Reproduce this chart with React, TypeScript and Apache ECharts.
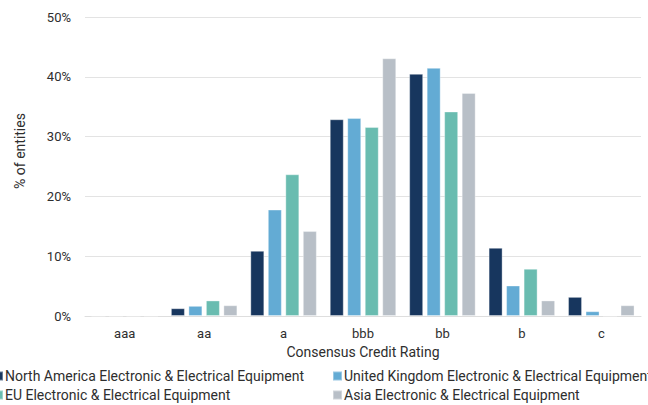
import React, { useEffect, useRef } from "react";
import * as echarts from "echarts";

// Consensus credit rating buckets
const ratings = ["aaa", "aa", "a", "bbb", "bb", "b", "c"];

// Share of entities (%) in each rating bucket, per region
const northAmerica = [0, 1.3, 10.9, 32.9, 40.5, 11.4, 3.2];
const unitedKingdom = [0, 1.7, 17.8, 33.1, 41.5, 5.1, 0.8];
const europeanUnion = [0, 2.6, 23.7, 31.6, 34.2, 7.9, 0];
const asia = [0, 1.8, 14.2, 43.1, 37.3, 2.6, 1.8];

const yTicks = [0, 10, 20, 30, 40, 50];

const seriesNames = [
  "North America Electronic & Electrical Equipment",
  "United Kingdom Electronic & Electrical Equipment",
  "EU Electronic & Electrical Equipment",
  "Asia Electronic & Electrical Equipment",
];
const seriesData = [northAmerica, unitedKingdom, europeanUnion, asia];
const colors = ["#17365e", "#63abd4", "#69bcb0", "#b8bfc7"];

const FONT = "Roboto, 'Noto Sans', sans-serif";
const TEXT = "#2e2e2e";

export default function App() {
  const ref = useRef<HTMLDivElement>(null);

  useEffect(() => {
    document.body.style.margin = "0";
    if (!ref.current) return;
    const chart = echarts.init(ref.current, null, { renderer: "svg" });

    const legendPos = [
      { left: -7, top: 369 },
      { left: 332, top: 369 },
      { left: -7, top: 388 },
      { left: 332, top: 388 },
    ];

    chart.setOption({
      animation: false,
      textStyle: { fontFamily: FONT },
      grid: {
        left: 85,
        right: 7,
        top: 17,
        bottom: 89,
        containLabel: false,
        outerBoundsMode: "none",
      },
      legend: seriesNames.map((name, i) => ({
        data: [name],
        left: legendPos[i].left,
        top: legendPos[i].top,
        padding: 0,
        itemWidth: 9,
        itemHeight: 9,
        icon: "rect",
        selectedMode: false,
        textStyle: {
          fontSize: 14,
          color: TEXT,
          fontFamily: FONT,
          padding: [0, 0, 0, -3],
        },
      })),
      xAxis: {
        type: "category",
        data: ratings,
        axisTick: { show: false },
        axisLine: { lineStyle: { color: "#dedede", width: 1 } },
        axisLabel: { color: TEXT, fontSize: 13, margin: 11, fontFamily: FONT },
        name: "Consensus Credit Rating",
        nameLocation: "middle",
        nameGap: 29,
        nameTextStyle: { color: TEXT, fontSize: 14, fontFamily: FONT },
      },
      yAxis: {
        type: "value",
        min: yTicks[0],
        max: yTicks[yTicks.length - 1],
        interval: 10,
        axisLine: { show: false },
        axisTick: { show: false },
        splitLine: { lineStyle: { color: "#e3e3e3", width: 1 } },
        axisLabel: {
          color: TEXT,
          fontSize: 13,
          margin: 14,
          fontFamily: FONT,
          formatter: "{value}%",
        },
      },
      graphic: [
        {
          type: "text",
          x: 20,
          y: 151,
          rotation: Math.PI / 2,
          style: {
            text: "% of entities",
            fill: TEXT,
            fontSize: 14,
            fontFamily: FONT,
            align: "center",
            verticalAlign: "middle",
          },
        },
      ],
      series: seriesNames.map((name, i) => ({
        name,
        type: "bar",
        data: seriesData[i],
        barWidth: 14,
        barGap: "25%",
        itemStyle: {
          color: colors[i],
          borderColor: "rgba(255,255,255,0.35)",
          borderWidth: 1,
        },
      })),
    });

    return () => chart.dispose();
  }, []);

  return <div ref={ref} style={{ width: 648, height: 405 }} />;
}
